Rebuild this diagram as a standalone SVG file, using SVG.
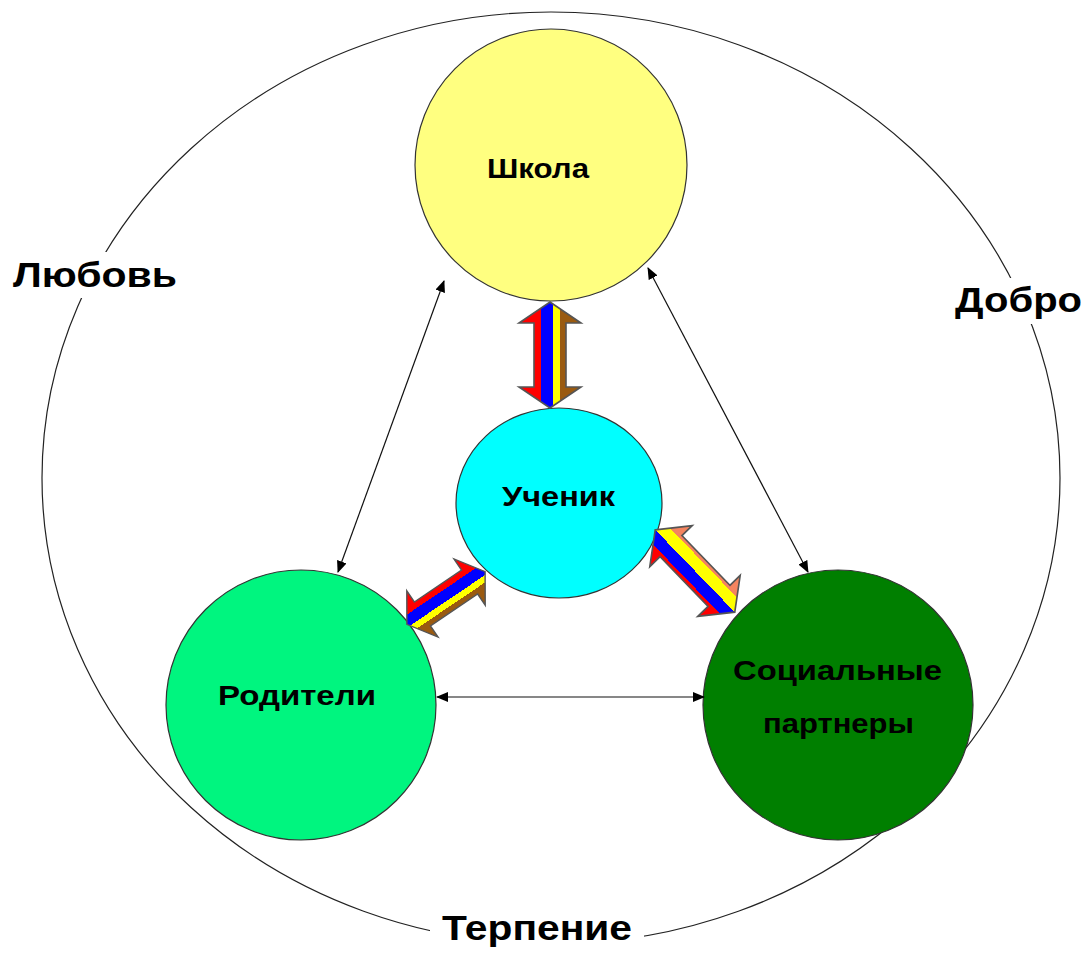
<svg xmlns="http://www.w3.org/2000/svg" width="1088" height="953" viewBox="0 0 1088 953">
<defs>
<style>
.node{stroke:#333;stroke-width:1.2}
.lbl{font-family:"Liberation Sans",Arial,sans-serif;font-weight:bold;fill:#000;text-anchor:start}
.big{font-size:35px}
.mid{font-size:28px}
.thin{stroke:#111;stroke-width:1.2;fill:none;marker-start:url(#ah);marker-end:url(#ah)}
.blk{stroke:#555;stroke-width:1.6;stroke-linejoin:miter}
</style>
<marker id="ah" viewBox="0 0 12 10" refX="11" refY="5" markerWidth="12" markerHeight="10" markerUnits="userSpaceOnUse" orient="auto-start-reverse">
<path d="M0,0 L12,5 L0,10 Z" fill="#000"/>
</marker>
<linearGradient id="g1" gradientUnits="userSpaceOnUse" x1="-31" y1="0" x2="31" y2="0">
<stop offset="0" stop-color="#ff0000"/><stop offset="0.355" stop-color="#ff0000"/>
<stop offset="0.355" stop-color="#0000ff"/><stop offset="0.55" stop-color="#0000ff"/>
<stop offset="0.55" stop-color="#ffff00"/><stop offset="0.66" stop-color="#ffff00"/>
<stop offset="0.66" stop-color="#9a5a10"/><stop offset="1" stop-color="#9a5a10"/>
</linearGradient>
<linearGradient id="g3" gradientUnits="userSpaceOnUse" x1="-31" y1="0" x2="31" y2="0">
<stop offset="0" stop-color="#ff0000"/><stop offset="0.3" stop-color="#ff0000"/>
<stop offset="0.3" stop-color="#0000ff"/><stop offset="0.5" stop-color="#0000ff"/>
<stop offset="0.5" stop-color="#ffff00"/><stop offset="0.7" stop-color="#ffff00"/>
<stop offset="0.7" stop-color="#f4845f"/><stop offset="1" stop-color="#f4845f"/>
</linearGradient>
<polygon id="dbl" points="0,-53 31,-32 16,-32 16,32 31,32 0,53 -31,32 -16,32 -16,-32 -31,-32"/>
</defs>
<rect width="1088" height="953" fill="#fff"/>
<g id="frame">
<ellipse cx="551" cy="478" rx="509" ry="466" fill="none" stroke="#222" stroke-width="1.2"/>
<rect x="8" y="252" width="176" height="46" fill="#fff"/>
<rect x="948" y="278" width="140" height="46" fill="#fff"/>
<rect x="430" y="912" width="214" height="41" fill="#fff"/>
<text class="lbl big" x="13" y="287" textLength="164" lengthAdjust="spacingAndGlyphs">Любовь</text>
<text class="lbl big" x="955" y="312" textLength="127" lengthAdjust="spacingAndGlyphs">Добро</text>
<text class="lbl big" x="442" y="940" textLength="190" lengthAdjust="spacingAndGlyphs">Терпение</text>
</g>
<g id="school">
<circle class="node" cx="551" cy="165" r="136" fill="#ffff80"/>
<text class="lbl mid" x="487" y="178" textLength="102" lengthAdjust="spacingAndGlyphs">Школа</text>
</g>
<g id="student">
<ellipse class="node" cx="559" cy="503" rx="103" ry="95" fill="#00ffff"/>
<text class="lbl mid" x="502" y="506" textLength="113" lengthAdjust="spacingAndGlyphs">Ученик</text>
</g>
<g id="parents">
<circle class="node" cx="301" cy="705" r="135" fill="#00f57f"/>
<text class="lbl mid" x="218" y="705" textLength="158" lengthAdjust="spacingAndGlyphs">Родители</text>
</g>
<g id="partners">
<circle class="node" cx="838" cy="705" r="135" fill="#007f00"/>
<text class="lbl mid" x="733" y="680" textLength="209" lengthAdjust="spacingAndGlyphs">Социальные</text>
<text class="lbl mid" x="763" y="733" textLength="151" lengthAdjust="spacingAndGlyphs">партнеры</text>
</g>
<g id="connectors">
<line class="thin" x1="444" y1="281" x2="338" y2="572"/>
<line class="thin" x1="648" y1="268" x2="808" y2="572"/>
<line class="thin" x1="437" y1="697" x2="704" y2="697"/>
<use href="#dbl" class="blk" fill="url(#g1)" transform="translate(550,355)"/>
<use href="#dbl" class="blk" fill="url(#g1)" transform="translate(446,598) rotate(56) scale(0.9,0.89)"/>
<use href="#dbl" class="blk" fill="url(#g3)" transform="translate(695,571) rotate(-44) scale(0.95,1.08)"/>
</g>
</svg>
